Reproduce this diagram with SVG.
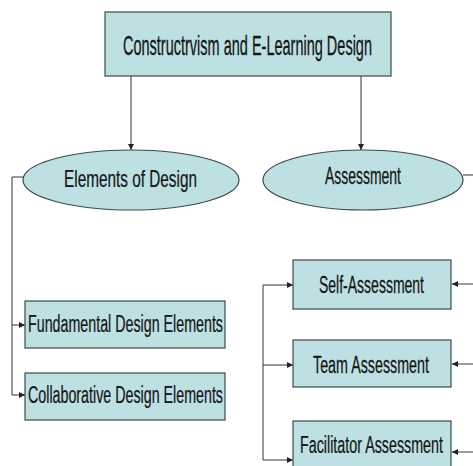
<svg xmlns="http://www.w3.org/2000/svg" width="473" height="466" viewBox="0 0 473 466">
  <style>
    .box { fill: #bde0e3; stroke: #3a4a4c; stroke-width: 1.2; }
    /* narrow, tall lettering: small size stretched vertically */
    .lbl { font-family: "Liberation Sans", Arial, sans-serif; fill: #151515; stroke: #151515; stroke-width: 0.15; }
    .wire { fill: none; stroke: #333333; stroke-width: 1; }
  </style>
  <defs>
    <marker id="arrow" viewBox="0 0 8 8" refX="8" refY="4" markerWidth="6" markerHeight="6" markerUnits="userSpaceOnUse" orient="auto">
      <path d="M0,0 L8,4 L0,8 Z" fill="#222222"/>
    </marker>
  </defs>
  <rect width="473" height="466" fill="#ffffff"/>

  <!-- connectors -->
  <g id="connectors">
    <line class="wire" x1="131" y1="76" x2="131" y2="150" marker-end="url(#arrow)"/>
    <line class="wire" x1="361" y1="76" x2="361" y2="150" marker-end="url(#arrow)"/>
    <polyline class="wire" points="23,177 12,177 12,325 25,325" marker-end="url(#arrow)"/>
    <polyline class="wire" points="12,325 12,395 25,395" marker-end="url(#arrow)"/>
    <line class="wire" x1="463" y1="175" x2="473" y2="175"/>
    <polyline class="wire" points="263,285 293,285" marker-end="url(#arrow)"/>
    <polyline class="wire" points="263,285 263,365 293,365" marker-end="url(#arrow)"/>
    <polyline class="wire" points="263,365 263,460 293,460" marker-end="url(#arrow)"/>
    <line class="wire" x1="473" y1="284" x2="452" y2="284" marker-end="url(#arrow)"/>
    <line class="wire" x1="473" y1="364" x2="452" y2="364" marker-end="url(#arrow)"/>
    <line class="wire" x1="473" y1="452" x2="452" y2="452" marker-end="url(#arrow)"/>
  </g>

  <g id="root">
    <rect class="box" x="105" y="12" width="286" height="64"/>
    <text class="lbl" transform="translate(123,55) scale(1,1.85)" font-size="14.5" textLength="249" lengthAdjust="spacingAndGlyphs">Constructrvism and E-Learning Design</text>
  </g>

  <g id="elements">
    <ellipse class="box" cx="131" cy="180" rx="108" ry="30"/>
    <text class="lbl" transform="translate(64,187) scale(1,1.62)" font-size="15.3" textLength="133" lengthAdjust="spacingAndGlyphs">Elements of Design</text>
  </g>

  <g id="assessment">
    <ellipse class="box" cx="363" cy="180" rx="100" ry="30"/>
    <text class="lbl" transform="translate(325,184) scale(1,1.68)" font-size="14" textLength="76" lengthAdjust="spacingAndGlyphs">Assessment</text>
  </g>

  <g id="fundamental">
    <rect class="box" x="25" y="301" width="200" height="47"/>
    <text class="lbl" transform="translate(28,332) scale(1,1.62)" font-size="14.3" textLength="195" lengthAdjust="spacingAndGlyphs">Fundamental Design Elements</text>
  </g>

  <g id="collaborative">
    <rect class="box" x="25" y="373" width="200" height="47"/>
    <text class="lbl" transform="translate(28,403) scale(1,1.62)" font-size="14.3" textLength="195" lengthAdjust="spacingAndGlyphs">Collaborative Design Elements</text>
  </g>

  <g id="self">
    <rect class="box" x="293" y="260" width="158" height="49"/>
    <text class="lbl" transform="translate(319,293) scale(1,1.68)" font-size="14" textLength="105" lengthAdjust="spacingAndGlyphs">Self-Assessment</text>
  </g>

  <g id="team">
    <rect class="box" x="293" y="340" width="158" height="47"/>
    <text class="lbl" transform="translate(313,373) scale(1,1.68)" font-size="14" textLength="116" lengthAdjust="spacingAndGlyphs">Team Assessment</text>
  </g>

  <g id="facilitator">
    <rect class="box" x="293" y="421" width="158" height="60"/>
    <text class="lbl" transform="translate(300,453) scale(1,1.66)" font-size="14.2" textLength="143" lengthAdjust="spacingAndGlyphs">Facilitator Assessment</text>
  </g>
</svg>
